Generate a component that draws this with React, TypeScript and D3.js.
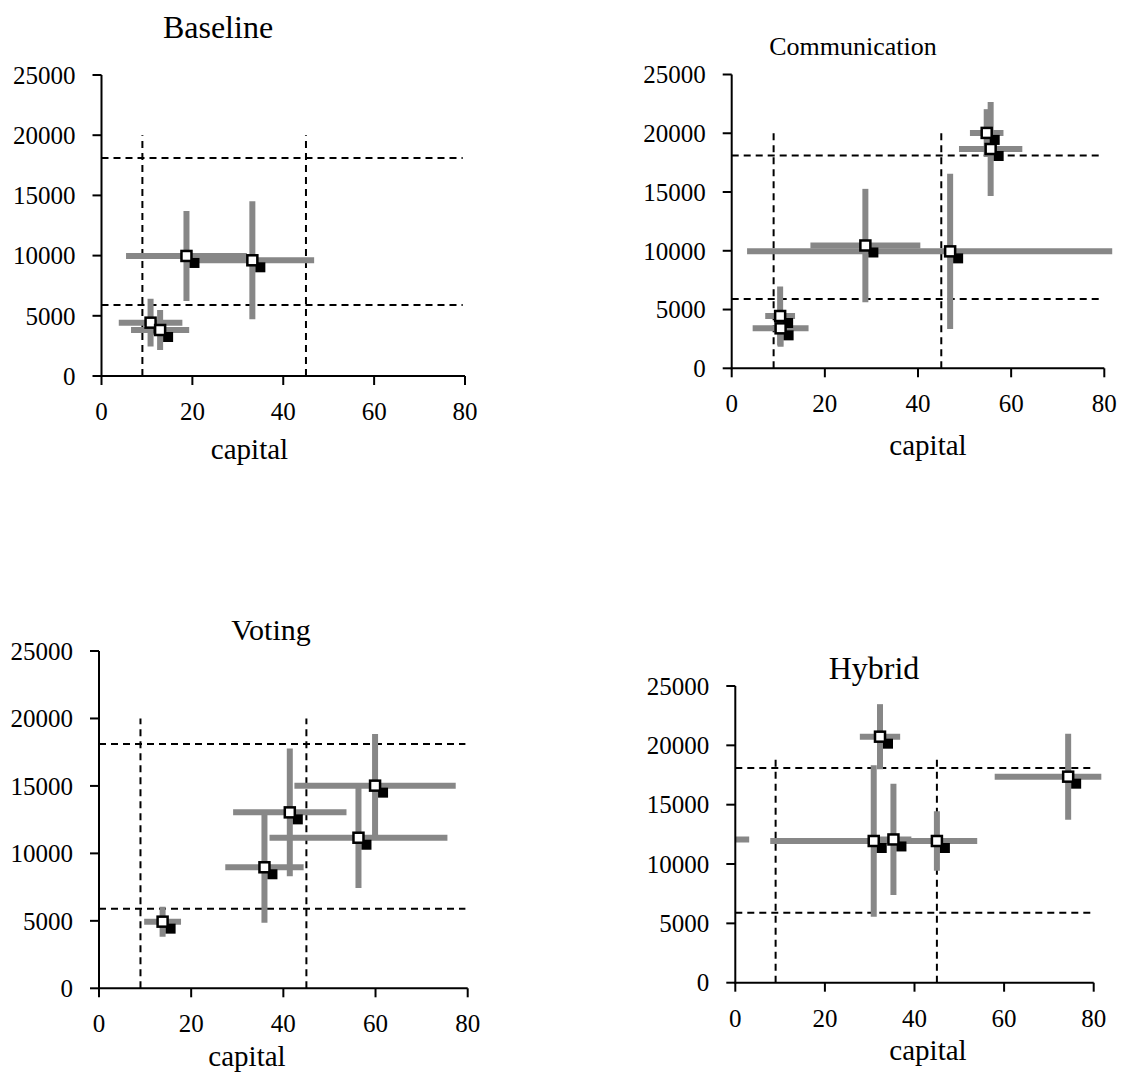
import React from 'react';
import * as d3 from 'd3';

// ---------- data ----------
const panelTitles = ['Baseline', 'Communication', 'Voting', 'Hybrid'];
const xTicks = [0, 20, 40, 60, 80];
const yTicks = [0, 5000, 10000, 15000, 20000, 25000];
const xAxisLabel = 'capital';
const capitalThresholds = [9, 45];
const incomeThresholds = [5900, 18100];
const verticalThresholdTop = [20000, 20000, 20000, 19200];
const horizontalThresholdEnd = 79.5;
const plotXMax = 81.7;

// Baseline
const baselineX = [18.7, 33.2, 10.8, 12.9];
const baselineY = [9970, 9610, 4430, 3820];
const baselineSdX = [13.3, 13.6, 7.0, 6.4];
const baselineSdY = [3740, 4900, 1980, 1660];

// Communication
const commX = [54.75, 55.6, 28.7, 46.9, 10.4, 10.5];
const commY = [20030, 18660, 10450, 9950, 4450, 3400];
const commSdX = [3.6, 6.8, 11.8, 43.6, 3.2, 6.0];
const commSdY = [2020, 4000, 4820, 6600, 2500, 1560];

// Voting
const votingX = [13.8, 35.9, 41.4, 56.3, 59.9];
const votingY = [4940, 8970, 13040, 11160, 15020];
const votingSdX = [4.0, 8.5, 12.3, 19.3, 17.5];
const votingSdY = [1110, 4110, 4730, 3730, 3830];

// Hybrid
const hybridX = [32.3, 74.3, 30.9, 35.3, 45.0];
const hybridY = [20730, 17360, 11940, 12070, 11940];
const hybridSdX = [4.5, 16.4, 23.1, 4.0, 5.0];
const hybridSdY = [2740, 3620, 6390, 4690, 2500];
const hybridExtraBarX = [0, 3.1];
const hybridExtraBarY = [12070];

// ---------- layout ----------
const layouts = [
  { x0: 101.5, x1: 465, y0: 376, y1: 75, titleX: 218, titleY: 38, titleSize: 32, capX: 249.5, capY: 459 },
  { x0: 731.7, x1: 1104.3, y0: 368.3, y1: 74.5, titleX: 853, titleY: 55, titleSize: 26, capX: 928, capY: 455 },
  { x0: 99, x1: 467.7, y0: 988.3, y1: 651, titleX: 271, titleY: 640, titleSize: 30, capX: 247, capY: 1066 },
  { x0: 735.3, x1: 1093.7, y0: 982.7, y1: 686, titleX: 874, titleY: 679, titleSize: 32, capX: 928, capY: 1060 },
];

const panelData = [
  { xs: baselineX, ys: baselineY, sx: baselineSdX, sy: baselineSdY, extraX: [] as number[], extraY: [] as number[] },
  { xs: commX, ys: commY, sx: commSdX, sy: commSdY, extraX: [] as number[], extraY: [] as number[] },
  { xs: votingX, ys: votingY, sx: votingSdX, sy: votingSdY, extraX: [] as number[], extraY: [] as number[] },
  { xs: hybridX, ys: hybridY, sx: hybridSdX, sy: hybridSdY, extraX: hybridExtraBarX, extraY: hybridExtraBarY },
];

const FONT = '"Liberation Serif", "Times New Roman", serif';
const GRAY = '#878787';

function Panel({ idx }: { idx: number }) {
  const L = layouts[idx];
  const D = panelData[idx];
  const x = d3.scaleLinear().domain([0, 80]).range([L.x0, L.x1]);
  const y = d3.scaleLinear().domain([0, 25000]).range([L.y0, L.y1]);
  const clipId = `clip-${idx}`;
  const n = D.xs.length;
  const idxs = d3.range(n);
  return (
    <g>
      <defs>
        <clipPath id={clipId}>
          <rect x={x(0)} y={0} width={x(plotXMax) - x(0)} height={y(0) + 2} />
        </clipPath>
      </defs>
      <text x={L.titleX} y={L.titleY} textAnchor="middle" fontSize={L.titleSize} fontFamily={FONT}>
        {panelTitles[idx]}
      </text>
      {capitalThresholds.map((c, i) => (
        <line key={'v' + i} x1={x(c)} x2={x(c)} y1={y(0)} y2={y(verticalThresholdTop[idx])}
          stroke="#000" strokeWidth={2} strokeDasharray="7 5" />
      ))}
      {incomeThresholds.map((t, i) => (
        <line key={'h' + i} x1={x(0)} x2={x(horizontalThresholdEnd)} y1={y(t)} y2={y(t)}
          stroke="#000" strokeWidth={2} strokeDasharray="7 5" />
      ))}
      <g clipPath={`url(#${clipId})`}>
        {idxs.map((i) => (
          <g key={'eb' + i}>
            <line x1={x(D.xs[i] - D.sx[i])} x2={x(D.xs[i] + D.sx[i])} y1={y(D.ys[i])} y2={y(D.ys[i])}
              stroke={GRAY} strokeWidth={6} />
            <line x1={x(D.xs[i])} x2={x(D.xs[i])} y1={y(D.ys[i] - D.sy[i])} y2={y(D.ys[i] + D.sy[i])}
              stroke={GRAY} strokeWidth={6} />
          </g>
        ))}
        {D.extraY.map((v, i) => (
          <line key={'ex' + i} x1={x(D.extraX[0])} x2={x(D.extraX[1])} y1={y(v)} y2={y(v)}
            stroke={GRAY} strokeWidth={6} />
        ))}
      </g>
      {idxs.map((i) => {
        const cx = x(D.xs[i]);
        const cy = y(D.ys[i]);
        return <rect key={'s' + i} x={cx + 3} y={cy + 2} width={10} height={10} fill="#000" />;
      })}
      {idxs.map((i) => {
        const cx = x(D.xs[i]);
        const cy = y(D.ys[i]);
        return (
          <rect key={'w' + i} x={cx - 5} y={cy - 5} width={10} height={10} fill="#fff" stroke="#000" strokeWidth={2.5} />
        );
      })}
      <line x1={x(0)} x2={x(0)} y1={y(0) + 1} y2={y(25000)} stroke="#000" strokeWidth={2} />
      <line x1={x(0) - 1} x2={x(80)} y1={y(0)} y2={y(0)} stroke="#000" strokeWidth={2} />
      {yTicks.map((t) => (
        <g key={'yt' + t}>
          <line x1={x(0) - 9} x2={x(0)} y1={y(t)} y2={y(t)} stroke="#000" strokeWidth={2} />
          <text x={x(0) - 26} y={y(t)} dy="0.35em" textAnchor="end" fontSize={25} fontFamily={FONT}>
            {t}
          </text>
        </g>
      ))}
      {xTicks.map((t) => (
        <g key={'xt' + t}>
          <line x1={x(t)} x2={x(t)} y1={y(0)} y2={y(0) + 9} stroke="#000" strokeWidth={2} />
          <text x={x(t)} y={y(0) + 44} textAnchor="middle" fontSize={25} fontFamily={FONT}>
            {t}
          </text>
        </g>
      ))}
      <text x={L.capX} y={L.capY} textAnchor="middle" fontSize={29} fontFamily={FONT}>
        {xAxisLabel}
      </text>
    </g>
  );
}

export default function App() {
  return (
    <svg width={1125} height={1076} style={{ position: 'absolute', left: 0, top: 0, background: '#fff' }}>
      <rect x={0} y={0} width={1125} height={1076} fill="#fff" />
      {panelTitles.map((_, i) => (
        <Panel key={i} idx={i} />
      ))}
    </svg>
  );
}
